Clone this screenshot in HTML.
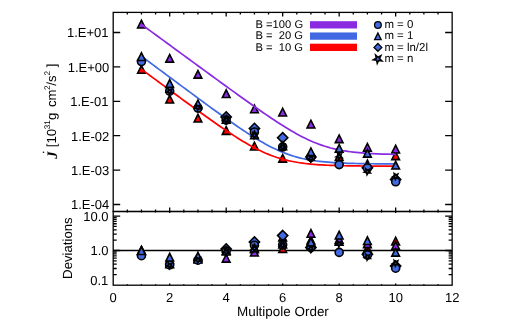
<!DOCTYPE html>
<html><head><meta charset="utf-8"><title>Multipole plot</title>
<style>html,body{margin:0;padding:0;background:#fff;overflow:hidden}body{width:509px;height:326px;font-family:"Liberation Sans",sans-serif}</style>
</head><body>
<svg width="509" height="326" viewBox="0 0 509 326" text-rendering="geometricPrecision" style="display:block;will-change:transform;font-family:'Liberation Sans',sans-serif">
<rect width="509" height="326" fill="#fff"/>
<path d="M113.2 250.5H452.15" stroke="#000" stroke-width="1.6" fill="none"/>
<g stroke="#000" stroke-width="1.6" stroke-linejoin="miter">
<path d="M137.60 254.53L141.45 246.83L145.30 254.53Z" fill="#ff0000"/>
<path d="M165.84 263.48L169.69 255.78L173.54 263.48Z" fill="#ff0000"/>
<path d="M194.09 261.84L197.94 254.14L201.79 261.84Z" fill="#ff0000"/>
<path d="M222.33 254.29L226.18 246.59L230.03 254.29Z" fill="#ff0000"/>
<path d="M250.58 252.68L254.43 244.98L258.28 252.68Z" fill="#ff0000"/>
<path d="M278.82 252.35L282.68 244.65L286.53 252.35Z" fill="#ff0000"/>
<path d="M307.07 243.95L310.92 236.25L314.77 243.95Z" fill="#ff0000"/>
<path d="M335.32 245.21L339.17 237.51L343.02 245.21Z" fill="#ff0000"/>
<path d="M363.56 252.31L367.41 244.61L371.26 252.31Z" fill="#ff0000"/>
<path d="M391.81 244.95L395.66 237.25L399.51 244.95Z" fill="#ff0000"/>
</g>
<g stroke="#000" stroke-width="1.6" stroke-linejoin="miter">
<path d="M137.60 254.07L141.45 246.37L145.30 254.07Z" fill="#8a2be2"/>
<path d="M165.84 267.59L169.69 259.89L173.54 267.59Z" fill="#8a2be2"/>
<path d="M194.09 262.93L197.94 255.23L201.79 262.93Z" fill="#8a2be2"/>
<path d="M222.33 262.15L226.18 254.45L230.03 262.15Z" fill="#8a2be2"/>
<path d="M250.58 255.95L254.43 248.25L258.28 255.95Z" fill="#8a2be2"/>
<path d="M278.82 240.85L282.68 233.15L286.53 240.85Z" fill="#8a2be2"/>
<path d="M307.07 237.25L310.92 229.55L314.77 237.25Z" fill="#8a2be2"/>
<path d="M335.32 243.23L339.17 235.53L343.02 243.23Z" fill="#8a2be2"/>
<path d="M363.56 247.65L367.41 239.95L371.26 247.65Z" fill="#8a2be2"/>
<path d="M391.81 249.35L395.66 241.65L399.51 249.35Z" fill="#8a2be2"/>
</g>
<g stroke="#000" stroke-width="1.6" stroke-linejoin="miter">
<path d="M226.18 243.90L231.28 249.00L226.18 254.10L221.08 249.00Z" fill="#4169e1"/>
<path d="M254.43 236.90L259.53 242.00L254.43 247.10L249.33 242.00Z" fill="#4169e1"/>
<path d="M282.68 230.50L287.78 235.60L282.68 240.70L277.57 235.60Z" fill="#4169e1"/>
<path d="M310.92 242.40L316.02 247.50L310.92 252.60L305.82 247.50Z" fill="#4169e1"/>
<path d="M367.41 249.20L372.51 254.30L367.41 259.40L362.31 254.30Z" fill="#4169e1"/>
<path d="M395.66 261.00L400.76 266.10L395.66 271.20L390.56 266.10Z" fill="#4169e1"/>
<circle cx="141.45" cy="255.70" r="4.00" fill="#4169e1"/>
<circle cx="169.69" cy="264.90" r="4.00" fill="#4169e1"/>
<circle cx="197.94" cy="260.20" r="4.00" fill="#4169e1"/>
<circle cx="226.18" cy="251.10" r="4.00" fill="#4169e1"/>
<circle cx="254.43" cy="245.20" r="4.00" fill="#4169e1"/>
<circle cx="282.68" cy="244.80" r="4.00" fill="#4169e1"/>
<circle cx="310.92" cy="247.35" r="4.00" fill="#4169e1"/>
<circle cx="339.17" cy="252.40" r="4.00" fill="#4169e1"/>
<circle cx="367.41" cy="255.00" r="4.00" fill="#4169e1"/>
<circle cx="395.66" cy="268.20" r="4.00" fill="#4169e1"/>
<path d="M137.60 254.55L141.45 246.85L145.30 254.55Z" fill="#4169e1"/>
<path d="M165.84 261.05L169.69 253.35L173.54 261.05Z" fill="#4169e1"/>
<path d="M194.09 260.05L197.94 252.35L201.79 260.05Z" fill="#4169e1"/>
<path d="M222.33 255.05L226.18 247.35L230.03 255.05Z" fill="#4169e1"/>
<path d="M250.58 251.75L254.43 244.05L258.28 251.75Z" fill="#4169e1"/>
<path d="M278.82 247.97L282.68 240.27L286.53 247.97Z" fill="#4169e1"/>
<path d="M307.07 245.85L310.92 238.15L314.77 245.85Z" fill="#4169e1"/>
<path d="M335.32 238.95L339.17 231.25L343.02 238.95Z" fill="#4169e1"/>
<path d="M363.56 244.55L367.41 236.85L371.26 244.55Z" fill="#4169e1"/>
<path d="M391.81 256.15L395.66 248.45L399.51 256.15Z" fill="#4169e1"/>
<path d="M169.31 268.58L168.77 266.49L166.65 266.09L168.47 264.93L168.19 262.79L169.86 264.16L171.81 263.23L171.02 265.24L172.50 266.81L170.35 266.68Z" fill="#4169e1"/>
<path d="M197.56 262.97L197.02 260.88L194.89 260.48L196.71 259.32L196.43 257.18L198.10 258.55L200.05 257.63L199.26 259.64L200.75 261.20L198.59 261.07Z" fill="#4169e1"/>
<path d="M225.81 254.98L225.26 252.89L223.14 252.50L224.96 251.33L224.68 249.19L226.35 250.56L228.30 249.64L227.51 251.65L228.99 253.22L226.84 253.09Z" fill="#4169e1"/>
<path d="M254.05 251.51L253.51 249.42L251.39 249.02L253.21 247.86L252.93 245.72L254.59 247.09L256.54 246.16L255.75 248.17L257.24 249.74L255.08 249.61Z" fill="#4169e1"/>
<path d="M282.30 248.30L281.75 246.21L279.63 245.82L281.45 244.65L281.17 242.51L282.84 243.88L284.79 242.96L284.00 244.97L285.48 246.53L283.33 246.41Z" fill="#4169e1"/>
<path d="M310.54 251.82L310.00 249.73L307.88 249.34L309.70 248.17L309.42 246.03L311.09 247.41L313.04 246.48L312.25 248.49L313.73 250.06L311.58 249.93Z" fill="#4169e1"/>
<path d="M338.79 246.94L338.25 244.85L336.12 244.46L337.94 243.29L337.66 241.15L339.33 242.52L341.28 241.60L340.49 243.61L341.98 245.17L339.82 245.04Z" fill="#4169e1"/>
<path d="M367.03 260.08L366.49 257.99L364.37 257.59L366.19 256.43L365.91 254.29L367.58 255.66L369.53 254.73L368.74 256.74L370.22 258.31L368.07 258.18Z" fill="#4169e1"/>
<path d="M395.28 266.18L394.74 264.09L392.62 263.69L394.43 262.53L394.16 260.39L395.82 261.76L397.77 260.83L396.98 262.84L398.47 264.41L396.31 264.28Z" fill="#4169e1"/>
</g>
<g stroke="#000" stroke-width="1.6" stroke-linejoin="miter">
<path d="M137.60 73.25L141.45 65.55L145.30 73.25Z" fill="#ff0000"/>
<path d="M165.84 103.05L169.69 95.35L173.54 103.05Z" fill="#ff0000"/>
<path d="M194.09 122.05L197.94 114.35L201.79 122.05Z" fill="#ff0000"/>
<path d="M222.33 134.35L226.18 126.65L230.03 134.35Z" fill="#ff0000"/>
<path d="M250.58 149.95L254.43 142.25L258.28 149.95Z" fill="#ff0000"/>
<path d="M278.82 162.15L282.68 154.45L286.53 162.15Z" fill="#ff0000"/>
<path d="M307.07 157.55L310.92 149.85L314.77 157.55Z" fill="#ff0000"/>
<path d="M335.32 160.35L339.17 152.65L343.02 160.35Z" fill="#ff0000"/>
<path d="M363.56 167.85L367.41 160.15L371.26 167.85Z" fill="#ff0000"/>
<path d="M391.81 159.65L395.66 151.95L399.51 159.65Z" fill="#ff0000"/>
</g>
<path d="M141.45 69.22L144.27 71.31L147.09 73.39L149.92 75.48L152.74 77.57L155.57 79.65L158.39 81.74L161.22 83.82L164.04 85.91L166.87 87.99L169.69 90.07L172.52 92.15L175.34 94.22L178.17 96.30L180.99 98.37L183.81 100.44L186.64 102.50L189.46 104.56L192.29 106.62L195.11 108.67L197.94 110.71L200.76 112.75L203.59 114.78L206.41 116.80L209.24 118.81L212.06 120.81L214.88 122.79L217.71 124.76L220.53 126.71L223.36 128.64L226.18 130.56L229.01 132.44L231.83 134.30L234.66 136.13L237.48 137.92L240.31 139.68L243.13 141.40L245.96 143.07L248.78 144.69L251.60 146.26L254.43 147.77L257.25 149.22L260.08 150.60L262.90 151.92L265.73 153.18L268.55 154.35L271.38 155.46L274.20 156.50L277.03 157.46L279.85 158.34L282.68 159.16L285.50 159.91L288.32 160.60L291.15 161.22L293.97 161.78L296.80 162.28L299.62 162.74L302.45 163.14L305.27 163.51L308.10 163.83L310.92 164.11L313.75 164.37L316.57 164.59L319.39 164.79L322.22 164.96L325.04 165.11L327.87 165.25L330.69 165.37L333.52 165.47L336.34 165.56L339.17 165.64L341.99 165.70L344.82 165.76L347.64 165.82L350.46 165.86L353.29 165.90L356.11 165.94L358.94 165.97L361.76 165.99L364.59 166.02L367.41 166.04L370.24 166.05L373.06 166.07L375.89 166.08L378.71 166.09L381.54 166.10L384.36 166.11L387.18 166.12L390.01 166.13L392.83 166.13L395.66 166.14" stroke="#ff0000" stroke-width="1.7" fill="none" stroke-linejoin="round"/>
<g stroke="#000" stroke-width="1.6" stroke-linejoin="miter">
<path d="M137.60 27.95L141.45 20.25L145.30 27.95Z" fill="#8a2be2"/>
<path d="M165.84 62.15L169.69 54.45L173.54 62.15Z" fill="#8a2be2"/>
<path d="M194.09 78.15L197.94 70.45L201.79 78.15Z" fill="#8a2be2"/>
<path d="M222.33 97.55L226.18 89.85L230.03 97.55Z" fill="#8a2be2"/>
<path d="M250.58 112.75L254.43 105.05L258.28 112.75Z" fill="#8a2be2"/>
<path d="M278.82 115.95L282.68 108.25L286.53 115.95Z" fill="#8a2be2"/>
<path d="M307.07 127.95L310.92 120.25L314.77 127.95Z" fill="#8a2be2"/>
<path d="M335.32 142.65L339.17 134.95L343.02 142.65Z" fill="#8a2be2"/>
<path d="M363.56 151.15L367.41 143.45L371.26 151.15Z" fill="#8a2be2"/>
<path d="M391.81 152.95L395.66 145.25L399.51 152.95Z" fill="#8a2be2"/>
</g>
<path d="M141.45 24.38L144.27 26.45L147.09 28.51L149.92 30.58L152.74 32.65L155.57 34.72L158.39 36.79L161.22 38.86L164.04 40.92L166.87 42.99L169.69 45.06L172.52 47.13L175.34 49.20L178.17 51.26L180.99 53.33L183.81 55.40L186.64 57.46L189.46 59.53L192.29 61.59L195.11 63.66L197.94 65.72L200.76 67.78L203.59 69.85L206.41 71.91L209.24 73.97L212.06 76.03L214.88 78.09L217.71 80.14L220.53 82.20L223.36 84.25L226.18 86.30L229.01 88.34L231.83 90.39L234.66 92.42L237.48 94.46L240.31 96.49L243.13 98.51L245.96 100.53L248.78 102.54L251.60 104.54L254.43 106.53L257.25 108.52L260.08 110.48L262.90 112.44L265.73 114.38L268.55 116.30L271.38 118.20L274.20 120.08L277.03 121.93L279.85 123.75L282.68 125.55L285.50 127.30L288.32 129.02L291.15 130.70L293.97 132.33L296.80 133.91L299.62 135.44L302.45 136.91L305.27 138.32L308.10 139.67L310.92 140.95L313.75 142.16L316.57 143.30L319.39 144.37L322.22 145.37L325.04 146.30L327.87 147.16L330.69 147.95L333.52 148.67L336.34 149.33L339.17 149.92L341.99 150.47L344.82 150.95L347.64 151.39L350.46 151.78L353.29 152.13L356.11 152.44L358.94 152.72L361.76 152.97L364.59 153.18L367.41 153.37L370.24 153.54L373.06 153.69L375.89 153.82L378.71 153.94L381.54 154.04L384.36 154.12L387.18 154.20L390.01 154.27L392.83 154.33L395.66 154.38" stroke="#8a2be2" stroke-width="1.7" fill="none" stroke-linejoin="round"/>
<path d="M141.45 56.20L144.27 58.30L147.09 60.40L149.92 62.51L152.74 64.61L155.57 66.71L158.39 68.81L161.22 70.91L164.04 73.01L166.87 75.11L169.69 77.21L172.52 79.30L175.34 81.40L178.17 83.49L180.99 85.59L183.81 87.68L186.64 89.77L189.46 91.86L192.29 93.94L195.11 96.03L197.94 98.11L200.76 100.18L203.59 102.26L206.41 104.32L209.24 106.39L212.06 108.44L214.88 110.49L217.71 112.53L220.53 114.56L223.36 116.59L226.18 118.60L229.01 120.59L231.83 122.57L234.66 124.53L237.48 126.48L240.31 128.40L243.13 130.30L245.96 132.16L248.78 134.00L251.60 135.80L254.43 137.57L257.25 139.29L260.08 140.97L262.90 142.60L265.73 144.17L268.55 145.68L271.38 147.14L274.20 148.53L277.03 149.85L279.85 151.10L282.68 152.28L285.50 153.38L288.32 154.41L291.15 155.37L293.97 156.25L296.80 157.06L299.62 157.81L302.45 158.49L305.27 159.10L308.10 159.66L310.92 160.15L313.75 160.60L316.57 161.00L319.39 161.36L322.22 161.68L325.04 161.96L327.87 162.21L330.69 162.42L333.52 162.62L336.34 162.79L339.17 162.94L341.99 163.07L344.82 163.18L347.64 163.28L350.46 163.37L353.29 163.44L356.11 163.51L358.94 163.57L361.76 163.62L364.59 163.66L367.41 163.70L370.24 163.74L373.06 163.77L375.89 163.79L378.71 163.81L381.54 163.83L384.36 163.85L387.18 163.86L390.01 163.88L392.83 163.89L395.66 163.90" stroke="#4169e1" stroke-width="1.7" fill="none" stroke-linejoin="round"/>
<g stroke="#000" stroke-width="1.6" stroke-linejoin="miter">
<path d="M226.18 111.90L231.28 117.00L226.18 122.10L221.08 117.00Z" fill="#4169e1"/>
<path d="M254.43 123.30L259.53 128.40L254.43 133.50L249.33 128.40Z" fill="#4169e1"/>
<path d="M282.68 132.60L287.78 137.70L282.68 142.80L277.57 137.70Z" fill="#4169e1"/>
<path d="M310.92 151.90L316.02 157.00L310.92 162.10L305.82 157.00Z" fill="#4169e1"/>
<path d="M367.41 162.70L372.51 167.80L367.41 172.90L362.31 167.80Z" fill="#4169e1"/>
<path d="M395.66 174.50L400.76 179.60L395.66 184.70L390.56 179.60Z" fill="#4169e1"/>
<circle cx="141.45" cy="61.60" r="4.00" fill="#4169e1"/>
<circle cx="169.69" cy="91.20" r="4.00" fill="#4169e1"/>
<circle cx="197.94" cy="108.10" r="4.00" fill="#4169e1"/>
<circle cx="226.18" cy="120.10" r="4.00" fill="#4169e1"/>
<circle cx="254.43" cy="132.00" r="4.00" fill="#4169e1"/>
<circle cx="282.68" cy="147.00" r="4.00" fill="#4169e1"/>
<circle cx="310.92" cy="157.00" r="4.00" fill="#4169e1"/>
<circle cx="339.17" cy="164.60" r="4.00" fill="#4169e1"/>
<circle cx="367.41" cy="168.00" r="4.00" fill="#4169e1"/>
<circle cx="395.66" cy="181.80" r="4.00" fill="#4169e1"/>
<path d="M137.60 60.45L141.45 52.75L145.30 60.45Z" fill="#4169e1"/>
<path d="M165.84 87.35L169.69 79.65L173.54 87.35Z" fill="#4169e1"/>
<path d="M194.09 107.65L197.94 99.95L201.79 107.65Z" fill="#4169e1"/>
<path d="M222.33 123.15L226.18 115.45L230.03 123.15Z" fill="#4169e1"/>
<path d="M250.58 138.75L254.43 131.05L258.28 138.75Z" fill="#4169e1"/>
<path d="M278.82 149.75L282.68 142.05L286.53 149.75Z" fill="#4169e1"/>
<path d="M307.07 155.65L310.92 147.95L314.77 155.65Z" fill="#4169e1"/>
<path d="M335.32 152.15L339.17 144.45L343.02 152.15Z" fill="#4169e1"/>
<path d="M363.56 157.15L367.41 149.45L371.26 157.15Z" fill="#4169e1"/>
<path d="M391.81 169.05L395.66 161.35L399.51 169.05Z" fill="#4169e1"/>
<path d="M169.31 94.68L168.77 92.59L166.65 92.19L168.47 91.03L168.19 88.89L169.86 90.26L171.81 89.33L171.02 91.34L172.50 92.91L170.35 92.78Z" fill="#4169e1"/>
<path d="M197.56 110.58L197.02 108.49L194.89 108.09L196.71 106.93L196.43 104.79L198.10 106.16L200.05 105.23L199.26 107.24L200.75 108.81L198.59 108.68Z" fill="#4169e1"/>
<path d="M225.81 123.08L225.26 120.99L223.14 120.59L224.96 119.43L224.68 117.29L226.35 118.66L228.30 117.73L227.51 119.74L228.99 121.31L226.84 121.18Z" fill="#4169e1"/>
<path d="M254.05 138.58L253.51 136.49L251.39 136.09L253.21 134.93L252.93 132.79L254.59 134.16L256.54 133.23L255.75 135.24L257.24 136.81L255.08 136.68Z" fill="#4169e1"/>
<path d="M282.30 150.08L281.75 147.99L279.63 147.59L281.45 146.43L281.17 144.29L282.84 145.66L284.79 144.73L284.00 146.74L285.48 148.31L283.33 148.18Z" fill="#4169e1"/>
<path d="M310.54 161.48L310.00 159.39L307.88 158.99L309.70 157.83L309.42 155.69L311.09 157.06L313.04 156.13L312.25 158.14L313.73 159.71L311.58 159.58Z" fill="#4169e1"/>
<path d="M338.79 159.38L338.25 157.29L336.12 156.89L337.94 155.73L337.66 153.59L339.33 154.96L341.28 154.03L340.49 156.04L341.98 157.61L339.82 157.48Z" fill="#4169e1"/>
<path d="M367.03 174.68L366.49 172.59L364.37 172.19L366.19 171.03L365.91 168.89L367.58 170.26L369.53 169.33L368.74 171.34L370.22 172.91L368.07 172.78Z" fill="#4169e1"/>
<path d="M395.28 179.38L394.74 177.29L392.62 176.89L394.43 175.73L394.16 173.59L395.82 174.96L397.77 174.03L396.98 176.04L398.47 177.61L396.31 177.48Z" fill="#4169e1"/>
</g>
<g stroke="#000" stroke-width="1.3" fill="none" stroke-linecap="butt">
<rect x="113.2" y="12.4" width="338.95" height="199.1"/>
<rect x="113.2" y="211.5" width="338.95" height="73.69999999999999"/>
<path d="M127.32 12.4v2.0 M127.32 211.5v-2.0 M127.32 211.5v0.9 M127.32 285.2v-0.9 M141.45 12.4v2.0 M141.45 211.5v-2.0 M141.45 211.5v0.9 M141.45 285.2v-0.9 M155.57 12.4v2.0 M155.57 211.5v-2.0 M155.57 211.5v0.9 M155.57 285.2v-0.9 M169.69 12.4v4.0 M169.69 211.5v-4.0 M169.69 211.5v1.6 M169.69 285.2v-1.8 M183.81 12.4v2.0 M183.81 211.5v-2.0 M183.81 211.5v0.9 M183.81 285.2v-0.9 M197.94 12.4v2.0 M197.94 211.5v-2.0 M197.94 211.5v0.9 M197.94 285.2v-0.9 M212.06 12.4v2.0 M212.06 211.5v-2.0 M212.06 211.5v0.9 M212.06 285.2v-0.9 M226.18 12.4v4.0 M226.18 211.5v-4.0 M226.18 211.5v1.6 M226.18 285.2v-1.8 M240.31 12.4v2.0 M240.31 211.5v-2.0 M240.31 211.5v0.9 M240.31 285.2v-0.9 M254.43 12.4v2.0 M254.43 211.5v-2.0 M254.43 211.5v0.9 M254.43 285.2v-0.9 M268.55 12.4v2.0 M268.55 211.5v-2.0 M268.55 211.5v0.9 M268.55 285.2v-0.9 M282.68 12.4v4.0 M282.68 211.5v-4.0 M282.68 211.5v1.6 M282.68 285.2v-1.8 M296.80 12.4v2.0 M296.80 211.5v-2.0 M296.80 211.5v0.9 M296.80 285.2v-0.9 M310.92 12.4v2.0 M310.92 211.5v-2.0 M310.92 211.5v0.9 M310.92 285.2v-0.9 M325.04 12.4v2.0 M325.04 211.5v-2.0 M325.04 211.5v0.9 M325.04 285.2v-0.9 M339.17 12.4v4.0 M339.17 211.5v-4.0 M339.17 211.5v1.6 M339.17 285.2v-1.8 M353.29 12.4v2.0 M353.29 211.5v-2.0 M353.29 211.5v0.9 M353.29 285.2v-0.9 M367.41 12.4v2.0 M367.41 211.5v-2.0 M367.41 211.5v0.9 M367.41 285.2v-0.9 M381.54 12.4v2.0 M381.54 211.5v-2.0 M381.54 211.5v0.9 M381.54 285.2v-0.9 M395.66 12.4v4.0 M395.66 211.5v-4.0 M395.66 211.5v1.6 M395.66 285.2v-1.8 M409.78 12.4v2.0 M409.78 211.5v-2.0 M409.78 211.5v0.9 M409.78 285.2v-0.9 M423.90 12.4v2.0 M423.90 211.5v-2.0 M423.90 211.5v0.9 M423.90 285.2v-0.9 M438.03 12.4v2.0 M438.03 211.5v-2.0 M438.03 211.5v0.9 M438.03 285.2v-0.9 M113.2 204.50h7 M452.15 204.50h-7 M113.2 170.10h7 M452.15 170.10h-7 M113.2 135.70h7 M452.15 135.70h-7 M113.2 101.30h7 M452.15 101.30h-7 M113.2 66.90h7 M452.15 66.90h-7 M113.2 32.50h7 M452.15 32.50h-7 M113.2 216.10h7 M452.15 216.10h-7 M113.2 217.67h3.5 M452.15 217.67h-3.5 M113.2 219.43h3.5 M452.15 219.43h-3.5 M113.2 221.43h3.5 M452.15 221.43h-3.5 M113.2 223.73h3.5 M452.15 223.73h-3.5 M113.2 226.46h3.5 M452.15 226.46h-3.5 M113.2 229.79h3.5 M452.15 229.79h-3.5 M113.2 234.09h3.5 M452.15 234.09h-3.5 M113.2 240.14h3.5 M452.15 240.14h-3.5 M113.2 250.50h7 M452.15 250.50h-7 M113.2 252.07h3.5 M452.15 252.07h-3.5 M113.2 253.83h3.5 M452.15 253.83h-3.5 M113.2 255.83h3.5 M452.15 255.83h-3.5 M113.2 258.13h3.5 M452.15 258.13h-3.5 M113.2 260.86h3.5 M452.15 260.86h-3.5 M113.2 264.19h3.5 M452.15 264.19h-3.5 M113.2 268.49h3.5 M452.15 268.49h-3.5 M113.2 274.54h3.5 M452.15 274.54h-3.5"/>
</g>
<g fill="#000" font-size="13.0px">
<text x="108.5" y="37.30" text-anchor="end">1.E+01</text>
<text x="109.3" y="71.70" text-anchor="end">1.E+00</text>
<text x="108.5" y="106.10" text-anchor="end">1.E-01</text>
<text x="109.3" y="140.50" text-anchor="end">1.E-02</text>
<text x="109.3" y="174.90" text-anchor="end">1.E-03</text>
<text x="109.3" y="209.30" text-anchor="end">1.E-04</text>
<text x="108.6" y="220.70" text-anchor="end">10.0</text>
<text x="108.6" y="254.80" text-anchor="end">1.0</text>
<text x="108.3" y="284.6" text-anchor="end">0.1</text>
<text x="113.20" y="301.8" text-anchor="middle">0</text>
<text x="169.69" y="301.8" text-anchor="middle">2</text>
<text x="226.18" y="301.8" text-anchor="middle">4</text>
<text x="282.68" y="301.8" text-anchor="middle">6</text>
<text x="339.17" y="301.8" text-anchor="middle">8</text>
<text x="395.66" y="301.8" text-anchor="middle">10</text>
<text x="452.15" y="301.8" text-anchor="middle">12</text>
</g>
<text x="282.9" y="315.8" text-anchor="middle" font-size="13.45px">Multipole Order</text>
<text transform="translate(72.1 248.1) rotate(-90)" text-anchor="middle" font-size="13.2px">Deviations</text>
<g transform="translate(55.8 158.5) rotate(-90)" font-size="13.2px"><text x="-0.3" y="1.0" font-family="Liberation Serif,serif" font-weight="bold" font-style="italic" font-size="14.5px">J</text><circle cx="6.2" cy="-12.3" r="0.8"/><text x="11.25" y="0">[10</text><text x="29.2" y="-6.3" font-size="8.2px">31</text><text x="38.4" y="0">g</text><text x="51.45" y="0">cm</text><text x="68.5" y="-6.3" font-size="8.2px">2</text><text x="72.8" y="0">/s</text><text x="83.0" y="-6.3" font-size="8.2px">2</text><text x="91.2" y="0">]</text></g>
<g font-size="11.2px">
<text x="255.5" y="28.10" xml:space="preserve">B =100 G</text>
<rect x="310" y="21.20" width="47" height="7.3" fill="#8a2be2"/>
<text x="255.5" y="39.35" xml:space="preserve">B =  20 G</text>
<rect x="310" y="32.45" width="47" height="7.3" fill="#4169e1"/>
<text x="255.5" y="50.60" xml:space="preserve">B =  10 G</text>
<rect x="310" y="43.70" width="47" height="7.3" fill="#ff0000"/>
<text x="384.4" y="28.00" font-size="11.45px">m = 0</text>
<text x="384.4" y="39.25" font-size="11.45px">m = 1</text>
<text x="384.4" y="50.50" font-size="11.45px">m = ln/2l</text>
<text x="384.4" y="61.75" font-size="11.45px">m = n</text>
</g>
<g stroke="#000" stroke-width="1.3">
<circle cx="377.90" cy="25.00" r="3.35" fill="#4169e1"/>
<path d="M374.63 39.60L377.90 33.05L381.17 39.60Z" fill="#4169e1"/>
<path d="M377.90 43.50L381.80 47.40L377.90 51.30L374.00 47.40Z" fill="#4169e1"/>
<path d="M377.25 63.47L376.61 60.28L373.38 59.86L376.21 58.26L375.62 55.06L378.01 57.26L380.87 55.71L379.52 58.67L381.88 60.90L378.65 60.53Z" stroke-width="1.5" fill="#4169e1"/>
</g>
</svg>
</body></html>
